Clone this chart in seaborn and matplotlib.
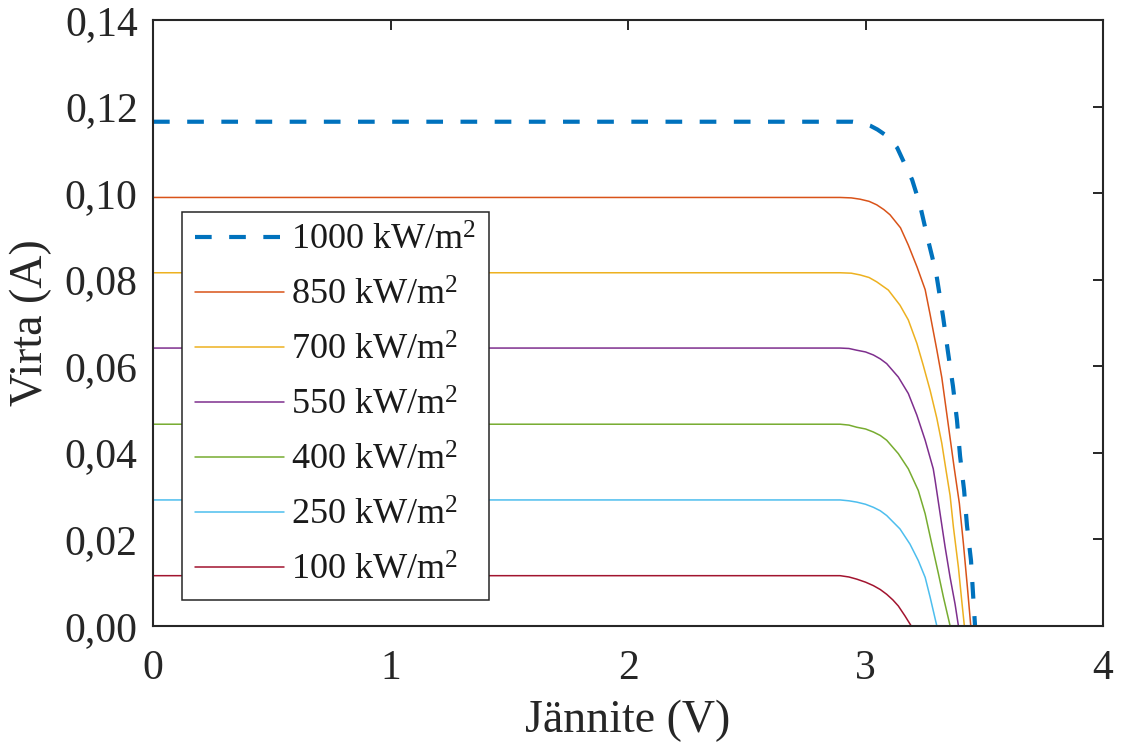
import matplotlib
matplotlib.use("Agg")
import matplotlib.pyplot as plt
from matplotlib.ticker import FuncFormatter
import seaborn as sns
import pandas as pd

# Irradiance levels (legend order)
irradiance = [1000, 850, 700, 550, 400, 250, 100]
colors = ["#0072BD", "#D95319", "#EDB120", "#7E2F8E", "#77AC30", "#4DBEEE", "#A2142F"]

# I-V curves: voltage (V) and current (A) for each irradiance level
v_1000 = [0.0, 2.947, 2.985, 3.019, 3.050, 3.082, 3.108, 3.133, 3.166, 3.196, 3.229,
          3.263, 3.297, 3.326, 3.347, 3.368, 3.385, 3.398, 3.415, 3.427, 3.444, 3.453, 3.461]
i_1000 = [0.1165, 0.1165, 0.1162, 0.1156, 0.1147, 0.1135, 0.1121, 0.1105, 0.1066, 0.1031,
          0.0973, 0.0892, 0.0816, 0.0716, 0.0633, 0.0554, 0.0475, 0.0392, 0.0313, 0.0232,
          0.0151, 0.0070, 0.0]

v_850 = [0.0, 2.893, 2.940, 2.977, 3.015, 3.047, 3.077, 3.103, 3.147, 3.180, 3.217, 3.251,
         3.272, 3.300, 3.321, 3.344, 3.373, 3.395, 3.412, 3.429, 3.443]
i_850 = [0.0990, 0.0990, 0.0989, 0.0986, 0.0981, 0.0973, 0.0962, 0.0950, 0.0920, 0.0880,
         0.0829, 0.0777, 0.0719, 0.0638, 0.0574, 0.0482, 0.0366, 0.0283, 0.0190, 0.0088, 0.0]

v_700 = [0.0, 2.893, 2.940, 2.977, 3.015, 3.047, 3.096, 3.145, 3.180, 3.216, 3.243, 3.272,
         3.300, 3.321, 3.339, 3.356, 3.370, 3.391, 3.405, 3.416]
i_700 = [0.0816, 0.0816, 0.0815, 0.0811, 0.0805, 0.0795, 0.0776, 0.0741, 0.0707, 0.0653,
         0.0602, 0.0544, 0.0480, 0.0422, 0.0359, 0.0301, 0.0228, 0.0135, 0.0058, 0.0]

v_550 = [0.0, 2.893, 2.930, 2.963, 3.000, 3.033, 3.062, 3.089, 3.138, 3.180, 3.216, 3.251,
         3.285, 3.293, 3.314, 3.335, 3.356, 3.377, 3.391]
i_550 = [0.0642, 0.0642, 0.0641, 0.0637, 0.0633, 0.0626, 0.0617, 0.0606, 0.0575, 0.0537,
         0.0487, 0.0429, 0.0363, 0.0336, 0.0259, 0.0182, 0.0112, 0.0050, 0.0]

v_400 = [0.0, 2.893, 2.930, 2.963, 3.000, 3.033, 3.062, 3.089, 3.138, 3.180, 3.222, 3.251,
         3.279, 3.307, 3.328, 3.356]
i_400 = [0.0466, 0.0466, 0.0464, 0.0459, 0.0455, 0.0448, 0.0440, 0.0429, 0.0398, 0.0363,
         0.0313, 0.0259, 0.0189, 0.0120, 0.0066, 0.0]

v_250 = [0.0, 2.893, 2.930, 2.963, 3.000, 3.033, 3.062, 3.089, 3.145, 3.187, 3.222, 3.251,
         3.272, 3.300]
i_250 = [0.0291, 0.0291, 0.0289, 0.0286, 0.0281, 0.0274, 0.0266, 0.0255, 0.0224, 0.0189,
         0.0151, 0.0112, 0.0066, 0.0]

v_100 = [0.0, 2.893, 2.930, 2.963, 3.000, 3.033, 3.062, 3.089, 3.115, 3.138, 3.166, 3.192]
i_100 = [0.0116, 0.0116, 0.0113, 0.0108, 0.0101, 0.0093, 0.0084, 0.0073, 0.0060, 0.0046,
         0.0023, 0.0]

voltages = [v_1000, v_850, v_700, v_550, v_400, v_250, v_100]
currents = [i_1000, i_850, i_700, i_550, i_400, i_250, i_100]

x_ticks = [0, 1, 2, 3, 4]
y_ticks = [0.00, 0.02, 0.04, 0.06, 0.08, 0.10, 0.12, 0.14]

sns.set_style("white")
plt.rcParams["font.family"] = ["Liberation Serif", "DejaVu Serif"]
plt.rcParams["mathtext.fontset"] = "custom"
plt.rcParams["mathtext.rm"] = "Liberation Serif"
plt.rcParams["mathtext.it"] = "Liberation Serif:italic"
plt.rcParams["font.size"] = 30

fig = plt.figure(figsize=(11.21, 7.42), dpi=100)
ax = fig.add_axes([0.1365, 0.1565, 0.8475, 0.8165])

for g, col, v, i in zip(irradiance, colors, voltages, currents):
    df = pd.DataFrame({"V": v, "I": i})
    if g == 1000:
        sns.lineplot(data=df, x="V", y="I", ax=ax, color=col, linewidth=3.0,
                     sort=False, estimator=None, label=f"{g} kW/m$^2$")
        ax.lines[-1].set_dashes([4.0, 4.2])
    else:
        sns.lineplot(data=df, x="V", y="I", ax=ax, color=col, linewidth=1.1,
                     sort=False, estimator=None, label=f"{g} kW/m$^2$")

ax.set_xlim(0, 4)
ax.set_ylim(0, 0.14)
ax.set_xticks(x_ticks)
ax.set_yticks(y_ticks)
ax.yaxis.set_major_formatter(FuncFormatter(lambda y, _: f"{y:.2f}".replace(".", ",")))
ax.xaxis.set_major_formatter(FuncFormatter(lambda x, _: f"{x:g}"))
ax.tick_params(direction="in", length=7, width=1.4, top=True, right=True,
               labelsize=30, colors="#262626", labelcolor="#262626")
ax.tick_params(axis="x", pad=17)
ax.tick_params(axis="y", pad=11)
for s in ax.spines.values():
    s.set_linewidth(1.5)
    s.set_color("#262626")
    s.set_visible(True)

ax.set_xlabel("Jännite (V)", fontsize=33, color="#262626", labelpad=8)
ax.set_ylabel("Virta (A)", fontsize=33, color="#262626", labelpad=9)

leg = ax.legend(loc="upper left", bbox_to_anchor=(0.031, 0.683), frameon=True,
                fancybox=False, edgecolor="#262626", framealpha=1.0,
                fontsize=26, handlelength=2.45, handletextpad=0.2,
                labelspacing=0.6, borderpad=0.35, borderaxespad=0.0)
leg.get_frame().set_linewidth(1.1)
for t in leg.get_texts():
    t.set_color("#1a1a1a")

fig.savefig("out.png", dpi=100)
